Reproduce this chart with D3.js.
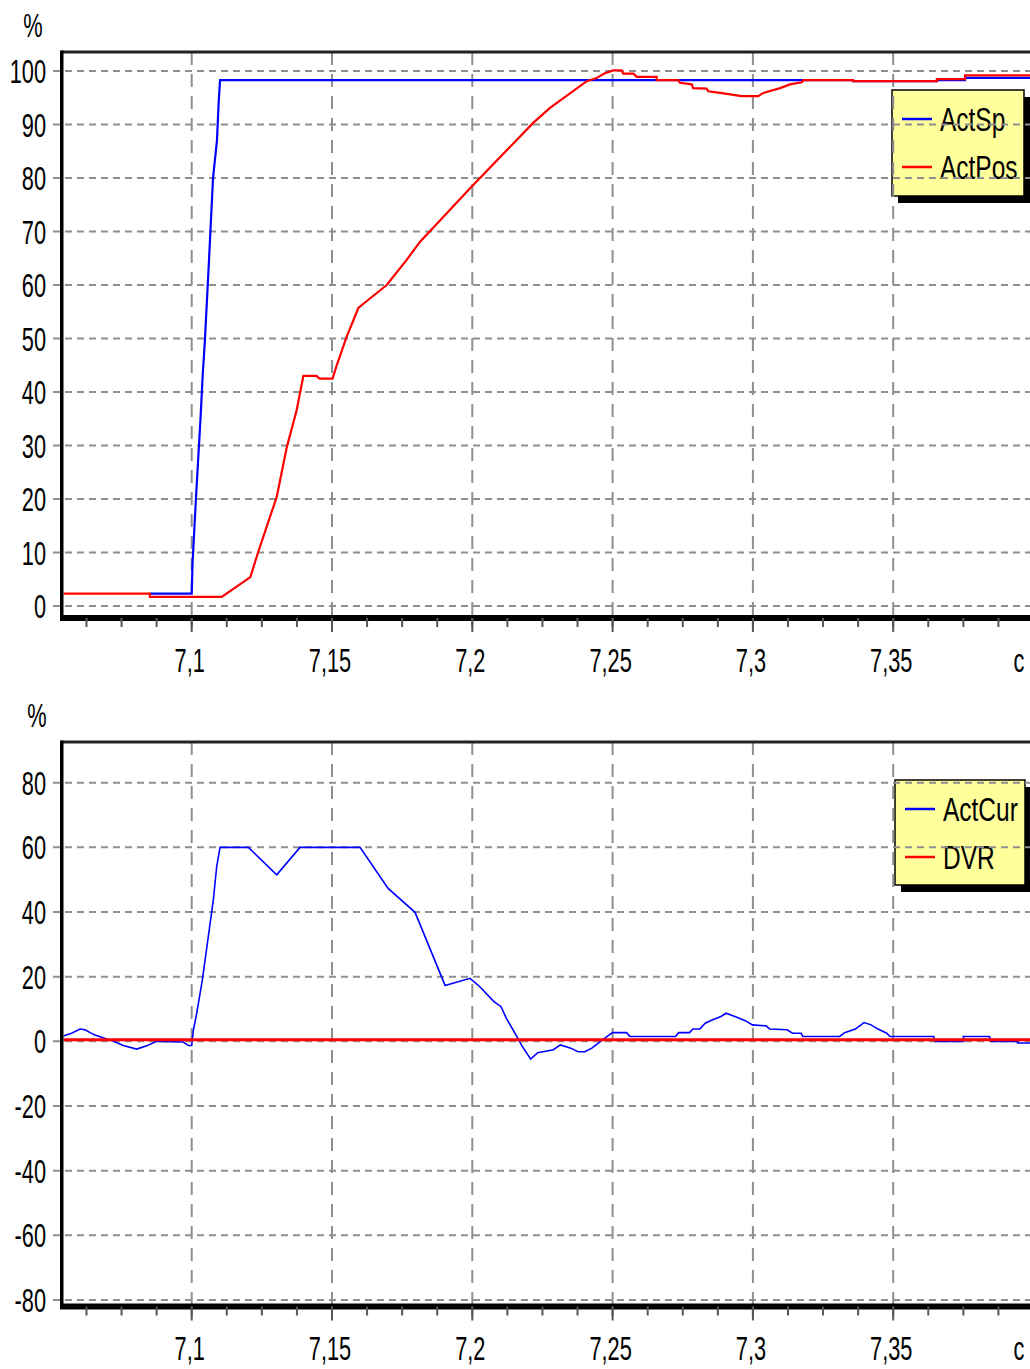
<!DOCTYPE html>
<html>
<head>
<meta charset="utf-8">
<script src="https://cdn.jsdelivr.net/npm/d3@7"></script>
<style>
  html, body { margin: 0; padding: 0; background: #fff; }
  svg text { font-family: "Liberation Sans", Arial, sans-serif; fill: #000; }
</style>
</head>
<body>
<div id="chart"></div>
<script>
// time axis (s), labels use comma decimals
var xTicks = [7.1, 7.15, 7.2, 7.25, 7.3, 7.35];
var xTickLabels = ["7,1", "7,15", "7,2", "7,25", "7,3", "7,35"];
var xUnit = "с";
var yUnit = "%";

var topYTicks = [0, 10, 20, 30, 40, 50, 60, 70, 80, 90, 100];
var bottomYTicks = [-80, -60, -40, -20, 0, 20, 40, 60, 80];

var topNames = ["ActSp", "ActPos"];
var bottomNames = ["ActCur", "DVR"];

// [time, %]
var actSp = [[7.0851,2.3],[7.1,2.3],[7.1003,8],[7.1015,20],[7.1027,31],[7.1032,35.6],[7.1039,43],
  [7.1047,49.6],[7.1062,65],[7.1076,80],[7.109,87],[7.1096,94],[7.1101,98.3],[7.3357,98.3],
  [7.3357,98.1],[7.3656,98.1],[7.3656,98.3],[7.3756,98.3],[7.3756,98.7],[7.399,98.7]];

var actPos = [[7.0534,2.3],[7.0851,2.3],[7.0851,1.7],[7.1107,1.7],[7.1209,5.4],[7.1237,10.1],
  [7.1303,20.4],[7.1339,29.7],[7.1374,36.6],[7.1398,43.0],[7.1445,43.0],[7.1455,42.5],[7.1502,42.5],
  [7.1517,45.0],[7.1552,50.3],[7.1594,55.7],[7.1612,56.5],[7.1695,60.0],[7.1766,64.7],[7.1814,68.1],
  [7.1998,78.4],[7.2217,90.3],[7.2277,93.1],[7.2408,98.1],[7.2443,98.7],[7.2473,99.6],[7.2502,100.1],
  [7.2532,100.1],[7.2538,99.5],[7.2574,99.5],[7.2586,98.9],[7.2657,98.9],[7.2657,98.3],[7.2734,98.3],
  [7.274,97.8],[7.2782,97.5],[7.2787,96.8],[7.2835,96.7],[7.2841,96.2],[7.2883,95.9],[7.296,95.3],
  [7.3019,95.3],[7.3037,95.9],[7.3097,96.8],[7.3132,97.5],[7.3174,97.9],[7.318,98.3],[7.3357,98.3],
  [7.3357,98.1],[7.3656,98.1],[7.3656,98.5],[7.3756,98.5],[7.3756,99.2],[7.399,99.2]];

var actCur = [[7.0537,1.5],[7.0572,2.5],[7.0602,3.8],[7.062,3.6],[7.0638,2.7],[7.0655,2.0],[7.0679,1.3],
  [7.0721,0],[7.0756,-1.3],[7.0804,-2.4],[7.084,-1.4],[7.0875,0],[7.097,-0.2],[7.0988,-1.3],[7.1,-1.3],
  [7.1006,3.5],[7.1018,8.7],[7.103,14.9],[7.1038,19],[7.1077,43.7],[7.1089,54],[7.1101,60],[7.1202,60],
  [7.1303,51.5],[7.1386,60],[7.16,60],[7.17,47.3],[7.1796,39.9],[7.1903,17.3],[7.1992,19.5],[7.2027,16.9],
  [7.2077,12.3],[7.2102,10.8],[7.2121,7.2],[7.2164,0.7],[7.2177,-1.4],[7.2208,-5.5],[7.2233,-3.5],
  [7.2289,-2.6],[7.2314,-1.1],[7.2351,-2.1],[7.2376,-3.2],[7.2401,-3.2],[7.2426,-2.1],[7.2457,0],
  [7.2488,2.0],[7.25,2.7],[7.255,2.7],[7.2562,1.5],[7.2724,1.5],[7.2736,2.7],[7.2774,2.7],[7.2786,3.8],
  [7.2811,3.8],[7.283,5.6],[7.2855,6.6],[7.2886,7.7],[7.2904,8.7],[7.2936,7.7],[7.2973,6.4],[7.2998,5.1],
  [7.3047,4.8],[7.306,3.8],[7.3122,3.6],[7.3141,2.5],[7.3172,2.5],[7.3178,1.5],[7.3309,1.5],[7.3327,2.7],
  [7.3365,3.8],[7.3396,5.8],[7.3421,5.1],[7.3446,3.8],[7.3477,2.5],[7.3489,1.5],[7.3644,1.5],[7.365,0],
  [7.375,0],[7.375,1.5],[7.3843,1.5],[7.3849,0],[7.3943,0],[7.3943,-0.5],[7.399,-0.5]];

var dvr = [[7.0534,0.5],[7.399,0.5]];

var W = 1030, H = 1369;
var plotLeft = 61.5, plotRight = 1030;
var gridColor = "#8f8f8f";

var svg = d3.select("#chart").append("svg")
  .attr("width", W).attr("height", H);

var x = d3.scaleLinear().domain([7.1, 7.35]).range([191.7, 893.2]);
var tMin = x.invert(plotLeft), tMax = x.invert(plotRight);
var minorTicks = d3.range(7.0625, 7.4, 0.0125).filter(function(t) {
  return x(t) > plotLeft + 3 && x(t) < plotRight;
});

function label(g, px, py, txt, anchor, sx) {
  g.append("text")
    .attr("transform", "translate(" + px + "," + py + ") scale(" + sx + ",1)")
    .attr("text-anchor", anchor)
    .attr("font-size", 34)
    .text(txt);
}

function panel(cfg) {
  var g = svg.append("g");
  var y = d3.scaleLinear().domain(cfg.yDomain).range(cfg.yRange);

  var clipId = "clip" + cfg.id;
  svg.append("clipPath").attr("id", clipId).append("rect")
    .attr("x", plotLeft + 2).attr("y", cfg.top)
    .attr("width", plotRight - plotLeft).attr("height", cfg.bottom - cfg.top);

  // legend (gridlines get drawn over it, like the original)
  var lg = g.append("g");
  lg.append("rect").attr("x", cfg.legend.x + 6).attr("y", cfg.legend.y + 7)
    .attr("width", cfg.legend.w).attr("height", cfg.legend.h).attr("fill", "#000");
  lg.append("rect").attr("x", cfg.legend.x).attr("y", cfg.legend.y)
    .attr("width", cfg.legend.w).attr("height", cfg.legend.h)
    .attr("fill", "#ffff9c").attr("stroke", "#000").attr("stroke-width", 1.5);
  cfg.names.forEach(function(name, i) {
    var sy = cfg.legend.y + 29 + i * 48;
    lg.append("line").attr("x1", cfg.legend.x + 10).attr("x2", cfg.legend.x + 40)
      .attr("y1", sy).attr("y2", sy)
      .attr("stroke", cfg.colors[i]).attr("stroke-width", 2.5);
    label(lg, cfg.legend.x + 48, sy + 12, name, "start", 0.72);
  });

  // horizontal grid
  g.selectAll(".hgrid").data(cfg.yTicks).enter().append("line")
    .attr("x1", 53).attr("x2", plotRight)
    .attr("y1", function(d) { return y(d); }).attr("y2", function(d) { return y(d); })
    .attr("stroke", gridColor).attr("stroke-width", 2)
    .attr("stroke-dasharray", "7,5");

  // vertical grid
  g.selectAll(".vgrid").data(xTicks).enter().append("line")
    .attr("x1", function(d) { return x(d); }).attr("x2", function(d) { return x(d); })
    .attr("y1", cfg.top).attr("y2", cfg.bottom)
    .attr("stroke", gridColor).attr("stroke-width", 2)
    .attr("stroke-dasharray", "13,9");

  // series
  var line = d3.line()
    .x(function(d) { return x(d[0]); })
    .y(function(d) { return y(d[1]); });
  cfg.series.forEach(function(s, i) {
    g.append("path").datum(s)
      .attr("clip-path", "url(#" + clipId + ")")
      .attr("fill", "none")
      .attr("stroke", cfg.colors[i])
      .attr("stroke-width", cfg.widths[i])
      .attr("d", line);
  });

  // frame
  g.append("line").attr("x1", plotLeft).attr("x2", plotRight)
    .attr("y1", cfg.top).attr("y2", cfg.top)
    .attr("stroke", "#222").attr("stroke-width", 3);
  g.append("line").attr("x1", plotLeft + 0.25).attr("x2", plotLeft + 0.25)
    .attr("y1", cfg.top - 1.5).attr("y2", cfg.bottom)
    .attr("stroke", "#000").attr("stroke-width", 3.5);
  g.append("line").attr("x1", plotLeft - 1.5).attr("x2", plotRight)
    .attr("y1", cfg.bottom).attr("y2", cfg.bottom)
    .attr("stroke", "#000").attr("stroke-width", 6);

  // x ticks
  g.selectAll(".minor").data(minorTicks).enter().append("line")
    .attr("x1", function(d) { return x(d); }).attr("x2", function(d) { return x(d); })
    .attr("y1", cfg.bottom).attr("y2", cfg.bottom + 9)
    .attr("stroke", "#555").attr("stroke-width", 2);
  g.selectAll(".major").data(xTicks).enter().append("line")
    .attr("x1", function(d) { return x(d); }).attr("x2", function(d) { return x(d); })
    .attr("y1", cfg.bottom).attr("y2", cfg.bottom + 14)
    .attr("stroke", "#555").attr("stroke-width", 2);

  // labels
  cfg.yTicks.forEach(function(v) {
    label(g, 46, y(v) + 12, String(v), "end", 0.64);
  });
  xTicks.forEach(function(t, i) {
    label(g, x(t) - 2, cfg.bottom + 53.5, xTickLabels[i], "middle", 0.64);
  });
  label(g, 1019, cfg.bottom + 53.5, xUnit, "middle", 0.64);
  label(g, cfg.unitX, cfg.top - 15, yUnit, "middle", 0.64);
}

panel({
  id: "top", top: 52, bottom: 618,
  yDomain: [0, 100], yRange: [606, 71], yTicks: topYTicks,
  names: topNames, series: [actSp, actPos],
  colors: ["#0000ff", "#ff0000"], widths: [2.2, 2.2],
  legend: { x: 892, y: 90, w: 132, h: 106 },
  unitX: 33
});

panel({
  id: "bottom", top: 742, bottom: 1306.5,
  yDomain: [-80, 80], yRange: [1300, 782.7], yTicks: bottomYTicks,
  names: bottomNames, series: [actCur, dvr],
  colors: ["#0000ff", "#ff0000"], widths: [1.6, 3.2],
  legend: { x: 895, y: 780, w: 130, h: 105 },
  unitX: 37
});
</script>
</body>
</html>
